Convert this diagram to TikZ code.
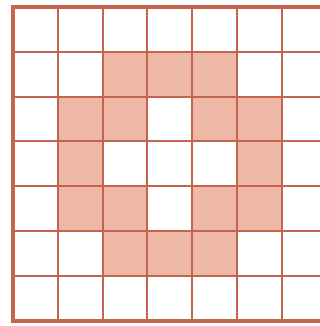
\documentclass[tikz,border=0pt]{standalone}
\begin{document}
\begin{tikzpicture}[x=1pt,y=-1pt,
  gridline/.style={draw=lineC,line width=2pt},
  outerline/.style={draw=lineC,line width=4.2pt},
  cellfill/.style={fill=fillC}]
\definecolor{lineC}{HTML}{C4634E}
\definecolor{fillC}{HTML}{EEB8A7}
\useasboundingbox (0,0) rectangle (320,326);
\fill[white] (0,0) rectangle (320,326);
\clip (0,0) rectangle (320,326);
\def\ox{13}\def\oy{7}\def\p{44.8}
% filled cells (row,col)
\foreach \r/\c in {1/2,1/3,1/4,2/1,2/2,2/4,2/5,3/1,3/5,4/1,4/2,4/4,4/5,5/2,5/3,5/4}{
  \fill[cellfill] ({\ox+\c*\p},{\oy+\r*\p}) rectangle ++(\p,\p);
}
% inner lines
\foreach \i in {1,...,6}{
  \draw[gridline] ({\ox+\i*\p},\oy) -- ({\ox+\i*\p},{\oy+7*\p});
  \draw[gridline] (\ox,{\oy+\i*\p}) -- ({\ox+7*\p},{\oy+\i*\p});
}
% outer border
\draw[outerline] (\ox,\oy) rectangle ({\ox+7*\p},{\oy+7*\p});
\end{tikzpicture}
\end{document}
